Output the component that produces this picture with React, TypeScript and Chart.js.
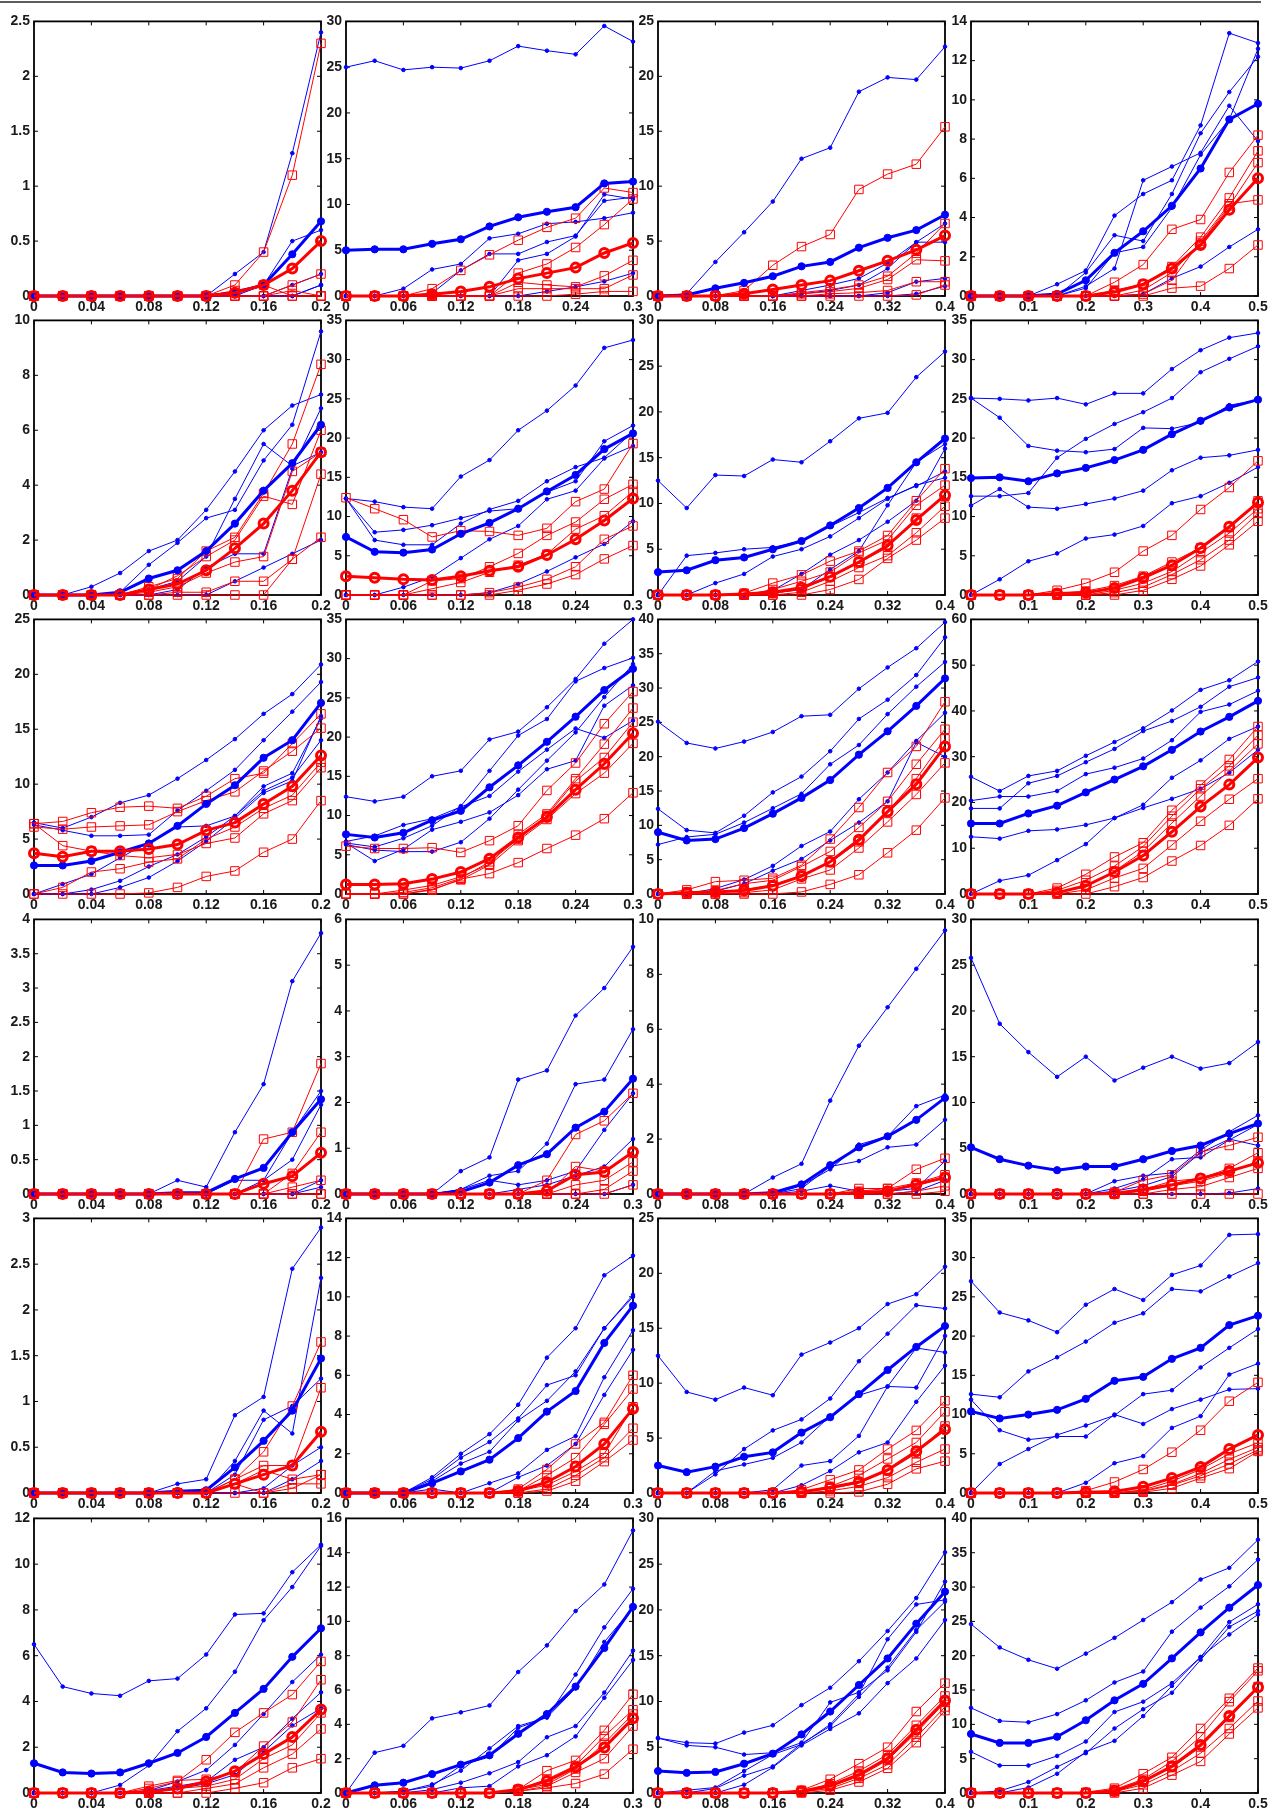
import React, { useEffect, useRef } from 'react';
import { Chart, registerables } from 'chart.js';
Chart.register(...registerables);

// x values per column
const xCol1 = [0, 0.02, 0.04, 0.06, 0.08, 0.1, 0.12, 0.14, 0.16, 0.18, 0.2];
const xCol2 = [0, 0.03, 0.06, 0.09, 0.12, 0.15, 0.18, 0.21, 0.24, 0.27, 0.3];
const xCol3 = [0, 0.04, 0.08, 0.12, 0.16, 0.2, 0.24, 0.28, 0.32, 0.36, 0.4];
const xCol4 = [0, 0.05, 0.1, 0.15, 0.2, 0.25, 0.3, 0.35, 0.4, 0.45, 0.5];
const xMaxByCol = [0.2, 0.3, 0.4, 0.5];
const xStepByCol = [0.04, 0.06, 0.08, 0.1];
const yMaxRows = [[2.5, 30, 25, 14], [10, 35, 30, 35], [25, 35, 40, 60], [4, 6, 10, 30], [3, 14, 25, 35], [12, 16, 30, 40]];
const yStepRows = [[0.5, 5, 5, 2], [2, 5, 5, 5], [5, 5, 5, 10], [0.5, 1, 2, 5], [0.5, 2, 5, 5], [2, 2, 5, 5]];

// ---------- Row 1 ----------
const blueR1C1 = [
  [0,0,0,0,0,0,0,0.2,0.4,1.3,2.4],
  [0,0,0,0,0,0,0,0,0.1,0.5,0.6],
  [0,0,0,0,0,0,0,0,0,0.1,0.2],
  [0,0,0,0,0,0,0,0,0,0,0.1],
  [0,0,0,0,0,0,0,0,0,0,0.1],
];
const blueMeanR1C1 = [0,0,0,0,0,0,0,0.03,0.1,0.38,0.68];
const redR1C1 = [
  [0,0,0,0,0,0,0,0.1,0.4,1.1,2.3],
  [0,0,0,0,0,0,0,0,0,0.1,0.2],
  [0,0,0,0,0,0,0,0.05,0.1,0,0],
  [0,0,0,0,0,0,0,0,0,0.05,0],
  [0,0,0,0,0,0,0,0,0,0,0],
];
const redMeanR1C1 = [0,0,0,0,0,0,0,0.03,0.1,0.25,0.5];

const blueR1C2 = [
  [25.0,25.7,24.7,25.0,24.9,25.7,27.3,26.8,26.4,29.5,27.8],
  [0,0,0.8,2.9,3.5,6.3,6.8,7.9,8.1,8.5,9.1],
  [0,0,0,0.3,2.8,4.6,4.6,5.9,6.6,10.4,10.8],
  [0,0,0,0,0,0,3.9,4.6,6.5,11.1,10.6],
  [0,0,0,0,0,0,0,0.5,1.0,1.6,2.5],
];
const blueMeanR1C2 = [5.0,5.1,5.1,5.7,6.2,7.6,8.6,9.2,9.7,12.3,12.5];
const redR1C2 = [
  [0,0,0,0.8,2.8,4.5,6.1,7.5,8.5,11.8,11.3],
  [0,0,0,0,0,0,2.5,3.5,5.3,7.8,10.6],
  [0,0,0,0,0,0,1.5,1.2,1.0,2.2,3.9],
  [0,0,0,0,0,0,0.8,0.8,0.8,0.8,2.3],
  [0,0,0,0,0,0,0,0,0.2,0.5,0.5],
];
const redMeanR1C2 = [0,0,0,0.2,0.5,1.0,1.9,2.5,3.1,4.7,5.8];

const blueR1C3 = [
  [0,0.2,3.1,5.8,8.6,12.5,13.5,18.6,19.9,19.7,22.7],
  [0,0,0,0,0,0.5,1.0,1.6,3.0,4.9,6.6],
  [0,0,0,0,0,0.2,0.5,1.0,2.5,4.9,4.9],
  [0,0,0,0,0,0,0,0,0.3,1.3,1.6],
  [0,0,0,0,0,0,0,0,0,0.2,0.9],
];
const blueMeanR1C3 = [0,0.1,0.7,1.2,1.8,2.7,3.1,4.4,5.3,6.0,7.4];
const redR1C3 = [
  [0,0,0,0.5,2.8,4.5,5.6,9.7,11.1,12.0,15.4],
  [0,0,0,0,0,0.3,0.6,1.0,1.8,3.9,6.6],
  [0,0,0,0,0,0.2,0.4,0.7,1.5,3.3,3.2],
  [0,0,0,0,0,0,0.2,0.3,0.5,1.3,1.3],
  [0,0,0,0,0,0,0,0,0,0.1,1.0],
];
const redMeanR1C3 = [0,0,0,0.2,0.6,1.0,1.4,2.3,3.2,4.2,5.5];

const blueR1C4 = [
  [0,0,0,0.6,1.3,4.1,5.2,5.9,8.7,13.4,12.9],
  [0,0,0,0,1.2,3.1,2.8,5.2,8.3,10.4,12.2],
  [0,0,0,0,0.5,1.4,5.9,6.6,7.3,9.7,7.9],
  [0,0,0,0,0.4,2.2,2.5,4.5,7.2,9.0,12.6],
  [0,0,0,0,0,0,0.1,0.9,1.5,2.5,3.4],
];
const blueMeanR1C4 = [0,0,0,0.1,0.8,2.2,3.3,4.6,6.5,9.0,9.8];
const redR1C4 = [
  [0,0,0,0,0,0.7,1.6,3.4,3.9,6.3,8.2],
  [0,0,0,0,0,0.3,0.6,1.5,3.0,5.0,7.4],
  [0,0,0,0,0,0,0.3,1.2,2.7,4.6,6.8],
  [0,0,0,0,0,0,0.1,0.8,2.8,4.7,4.9],
  [0,0,0,0,0,0,0,0.4,0.5,1.4,2.6],
];
const redMeanR1C4 = [0,0,0,0,0,0.2,0.6,1.4,2.6,4.4,6.0];

// ---------- Row 2 ----------
const blueR2C1 = [
  [0,0,0.3,0.8,1.6,2.0,3.1,4.5,6.0,6.9,7.3],
  [0,0,0,0.1,1.1,1.9,2.8,3.1,4.9,6.2,9.6],
  [0,0,0,0,0.2,0.5,1.4,3.5,5.5,4.7,5.2],
  [0,0,0,0,0,0.2,1.0,1.5,1.5,4.6,6.8],
  [0,0,0,0,0,0,0,0.5,1.0,1.5,2.0],
];
const blueMeanR2C1 = [0,0,0,0.1,0.6,0.9,1.6,2.6,3.8,4.8,6.2];
const redR2C1 = [
  [0,0,0,0,0.3,0.6,1.6,2.1,3.7,5.5,8.4],
  [0,0,0,0,0.2,0.7,1.4,2.0,3.6,3.3,6.0],
  [0,0,0,0,0.1,0.3,0.8,1.2,1.4,4.5,5.2],
  [0,0,0,0,0,0.1,0.1,0.5,0.5,1.3,4.4],
  [0,0,0,0,0,0,0,0,0,1.3,2.1],
];
const redMeanR2C1 = [0,0,0,0,0.2,0.4,0.9,1.7,2.6,3.8,5.2];

const blueR2C2 = [
  [12.3,11.9,11.2,11.0,15.1,17.2,21.0,23.5,26.7,31.5,32.5],
  [12.3,8.0,8.3,8.9,9.8,10.7,11.0,13.1,14.5,19.6,21.6],
  [12.3,7.0,6.4,6.4,9.1,10.9,12.0,14.5,16.3,17.5,20.8],
  [0,0,1.0,2.3,4.7,7.1,8.8,12.2,13.3,17.4,19.0],
  [0,0,0,0,0,0.3,1.4,3.0,4.8,6.5,9.4],
];
const blueMeanR2C2 = [7.4,5.5,5.4,5.8,7.8,9.2,11.0,13.2,15.3,18.6,20.6];
const redR2C2 = [
  [12.4,11.0,9.6,7.4,8.2,8.1,7.6,8.5,11.9,13.5,19.3],
  [0,0,0,1.8,2.1,3.6,5.3,7.6,9.3,12.2,14.1],
  [0,0,0,0.8,1.6,2.9,3.8,5.2,8.4,10.1,13.2],
  [0,0,0,0,0,0.3,1.0,2.0,3.6,7.1,8.8],
  [0,0,0,0,0,0,0.6,1.4,2.6,4.6,6.3],
];
const redMeanR2C2 = [2.4,2.2,2.0,1.9,2.4,3.1,3.6,5.1,7.1,9.5,12.3];

const blueR2C3 = [
  [12.5,9.5,13.1,13.0,14.8,14.5,16.8,19.3,19.9,23.8,26.6],
  [0,4.3,4.6,5.0,5.2,5.9,7.5,9.0,10.6,11.9,13.5],
  [0,0,1.3,2.3,4.2,5.0,6.4,8.4,10.5,12.0,12.8],
  [0,0,0,0,0.5,2.3,4.4,6.0,8.0,10.3,16.0],
  [0,0,0,0,0.2,0.6,2.8,4.8,9.8,14.5,16.5],
];
const blueMeanR2C3 = [2.5,2.7,3.8,4.1,5.0,5.9,7.6,9.5,11.7,14.5,17.1];
const redR2C3 = [
  [0,0,0,0.2,1.3,2.2,3.7,4.8,6.5,10.3,13.8],
  [0,0,0,0,0.6,1.5,2.5,4.6,6.0,9.8,12.0],
  [0,0,0,0,0.2,0.6,2.0,3.5,5.2,8.4,10.8],
  [0,0,0,0,0,0.3,1.5,3.0,4.3,6.8,9.7],
  [0,0,0,0,0,0,0.6,1.7,4.0,6.0,8.4],
];
const redMeanR2C3 = [0,0,0,0.1,0.3,0.8,2.0,3.6,5.4,8.2,10.9];

const blueR2C4 = [
  [25.1,25.0,24.8,25.1,24.3,25.7,25.7,28.8,31.2,32.8,33.4],
  [25.1,22.6,19.0,18.4,18.2,18.6,21.3,21.2,22.0,24.2,24.8],
  [12.6,12.6,13.0,17.5,19.9,21.8,23.3,25.1,28.4,30.1,31.7],
  [11.4,13.5,11.2,11.0,11.6,12.3,13.3,15.9,17.5,17.8,18.5],
  [0,2.0,4.3,5.3,7.2,7.7,8.8,11.7,12.6,14.3,16.3],
];
const blueMeanR2C4 = [14.9,15.0,14.5,15.5,16.2,17.2,18.5,20.5,22.2,23.9,24.9];
const redR2C4 = [
  [0,0,0,0.6,1.5,2.9,5.6,7.6,10.9,13.7,17.1],
  [0,0,0,0.2,0.5,1.2,2.4,4.2,6.0,8.6,12.0],
  [0,0,0,0,0,0.6,1.5,3.0,5.4,7.9,11.0],
  [0,0,0,0,0,0.3,1.0,2.6,4.5,7.0,10.4],
  [0,0,0,0,0,0,0.6,2.0,3.7,6.4,9.4],
];
const redMeanR2C4 = [0,0,0,0.2,0.3,0.9,2.2,3.8,6.0,8.7,11.8];

// ---------- Row 3 ----------
const blueR3C1 = [
  [6.5,6.0,7.0,8.3,9.0,10.5,12.2,14.1,16.4,18.2,20.9],
  [6.3,5.8,5.3,5.3,5.4,7.6,9.4,11.3,14.0,16.6,19.3],
  [0,0.9,1.8,3.3,4.7,6.1,6.2,7.1,9.8,11.0,16.0],
  [0,0,0.4,1.2,2.5,3.6,5.2,7.1,9.4,10.6,14.0],
  [0,0,0,0.6,1.5,3.0,4.8,6.9,9.2,10.3,16.2],
];
const blueMeanR3C1 = [2.6,2.6,3.0,3.8,4.6,6.2,8.2,9.9,12.4,14.0,17.4];
const redR3C1 = [
  [6.4,6.6,7.4,7.9,8.0,7.8,8.9,10.5,11.0,13.7,16.4],
  [6.1,5.9,6.1,6.2,6.3,7.5,8.5,9.3,11.2,13.0,15.1],
  [6.4,4.4,3.9,3.5,3.3,3.6,4.6,5.1,7.3,8.5,11.5],
  [0,0.6,2.0,2.3,2.9,3.2,5.0,6.1,7.8,9.0,12.0],
  [0,0,0,0,0.1,0.6,1.6,2.1,3.8,5.0,8.5],
];
const redMeanR3C1 = [3.7,3.4,3.9,3.9,4.1,4.5,5.8,6.5,8.2,9.8,12.6];

const blueR3C2 = [
  [12.4,11.8,12.4,15.0,15.7,19.7,20.7,23.8,27.4,31.9,35.0],
  [6.5,6.0,7.1,8.7,11.2,15.7,20.2,22.3,27.1,28.8,30.1],
  [6.3,5.6,5.4,5.4,6.6,9.6,13.3,17.0,20.6,25.1,29.3],
  [6.5,4.2,5.7,8.2,9.2,10.4,12.6,15.9,17.0,24.0,26.6],
  [6.7,7.4,8.8,9.6,11.1,12.5,15.6,18.4,21.1,19.9,22.1],
];
const blueMeanR3C2 = [7.6,7.2,7.8,9.4,10.6,13.6,16.4,19.4,22.6,26.0,28.7];
const redR3C2 = [
  [6.1,5.8,5.8,5.9,5.3,6.8,8.7,13.2,16.7,21.7,25.8],
  [0,0,0.5,1.1,2.2,3.8,7.6,10.2,14.7,19.1,23.7],
  [0,0,0.2,0.8,2.0,4.1,7.0,10.0,14.4,17.4,21.9],
  [0,0,0,0.6,1.8,3.7,6.8,9.5,12.8,15.4,19.2],
  [0,0,0,0.5,1.9,2.6,4.0,5.8,7.5,9.6,12.9],
];
const redMeanR3C2 = [1.2,1.2,1.3,1.9,2.8,4.5,7.2,9.8,13.3,16.6,20.5];

const blueR3C3 = [
  [25.1,22.0,21.2,22.2,23.6,25.9,26.1,29.9,33.0,35.8,39.6],
  [12.4,9.3,8.9,11.4,14.8,17.1,20.8,25.5,28.3,31.9,37.4],
  [7.2,8.3,8.7,10.4,12.5,14.6,18.9,21.7,26.2,30.2,33.8],
  [0,0,0.8,2.1,4.1,7.0,9.1,13.8,17.7,22.3,26.4],
  [0,0,0.4,1.5,3.4,5.1,7.8,10.4,13.5,22.1,20.0],
];
const blueMeanR3C3 = [9.0,7.8,8.0,9.6,11.7,14.0,16.6,20.3,23.7,27.4,31.4];
const redR3C3 = [
  [0,0.6,1.8,2.0,2.3,4.2,8.0,12.6,17.7,21.5,28.0],
  [0,0.3,0.5,1.5,2.0,4.0,6.2,9.7,13.5,18.9,24.0],
  [0,0,0.2,0.6,1.3,2.7,4.6,7.6,12.0,16.8,22.6],
  [0,0,0,0.2,0.6,2.2,3.5,6.7,10.5,14.5,19.1],
  [0,0,0,0,0,0.3,1.4,2.8,6.0,9.3,14.0],
];
const redMeanR3C3 = [0,0.2,0.3,0.5,1.2,2.6,4.7,7.9,12.0,16.0,21.5];

const blueR3C4 = [
  [25.6,22.5,25.8,26.9,30.2,33.2,36.2,40.1,44.6,46.7,50.8],
  [18.7,18.7,24.2,25.8,28.8,31.7,35.6,37.8,40.9,45.3,47.3],
  [20.4,21.3,21.3,22.5,26.2,27.6,29.6,33.6,39.8,41.4,44.4],
  [12.5,12.1,13.8,14.1,15.1,16.6,18.8,20.8,23.0,26.5,31.5],
  [0,2.9,4.1,7.4,10.9,16.6,19.5,25.4,29.2,33.9,36.6],
];
const blueMeanR3C4 = [15.4,15.4,17.6,19.3,22.2,25.0,27.9,31.5,35.5,38.7,42.2];
const redR3C4 = [
  [0,0,0,1.3,4.3,8.1,11.2,18.3,23.8,29.4,36.6],
  [0,0,0,0.8,3.0,6.1,10.4,17.0,23.0,28.0,34.7],
  [0,0,0,0.4,1.5,5.0,9.3,15.5,21.4,26.9,32.8],
  [0,0,0,0,0.9,3.5,5.6,10.7,15.9,20.7,25.2],
  [0,0,0,0,0,1.6,3.6,7.2,10.6,15.0,20.8],
];
const redMeanR3C4 = [0,0,0,0.3,1.8,4.8,8.4,13.6,19.1,23.9,29.8];

// ---------- Row 4 ----------
const blueR4C1 = [
  [0,0,0,0,0,0.2,0.1,0.9,1.6,3.1,3.8],
  [0,0,0,0,0,0,0,0.2,0.2,0.9,1.5],
  [0,0,0,0,0,0,0,0,0.2,0.5,1.3],
  [0,0,0,0,0,0,0,0,0,0,0.2],
  [0,0,0,0,0,0,0,0,0,0,0.1],
];
const blueMeanR4C1 = [0,0,0,0,0,0.02,0.02,0.22,0.38,0.9,1.38];
const redR4C1 = [
  [0,0,0,0,0,0,0,0,0.8,0.9,1.9],
  [0,0,0,0,0,0,0,0,0,0.3,0.9],
  [0,0,0,0,0,0,0,0,0,0.1,0.2],
  [0,0,0,0,0,0,0,0,0,0,0],
  [0,0,0,0,0,0,0,0,0,0,0],
];
const redMeanR4C1 = [0,0,0,0,0,0,0,0,0.15,0.26,0.6];

const blueR4C2 = [
  [0,0,0,0,0.5,0.8,2.5,2.7,3.9,4.5,5.4],
  [0,0,0,0,0.1,0.4,0.5,1.1,2.4,2.5,3.6],
  [0,0,0,0,0.1,0.3,0.2,0.3,0.5,1.4,2.2],
  [0,0,0,0,0,0,0.1,0.2,0.4,0.6,1.2],
  [0,0,0,0,0,0,0,0,0,0,0.2],
];
const blueMeanR4C2 = [0,0,0,0,0.05,0.25,0.63,0.87,1.45,1.8,2.52];
const redR4C2 = [
  [0,0,0,0,0,0,0,0.3,1.3,1.6,2.2],
  [0,0,0,0,0,0,0,0,0.6,0.5,0.9],
  [0,0,0,0,0,0,0,0,0.2,0.3,0.7],
  [0,0,0,0,0,0,0,0,0,0.1,0.5],
  [0,0,0,0,0,0,0,0,0,0,0.2],
];
const redMeanR4C2 = [0,0,0,0,0,0,0,0.07,0.42,0.48,0.92];

const blueR4C3 = [
  [0,0,0,0,0.6,1.1,3.4,5.4,6.8,8.2,9.6],
  [0,0,0,0,0,0.3,0.9,1.8,2.1,3.2,3.6],
  [0,0,0,0,0,0.2,1.0,1.2,1.7,1.8,2.7],
  [0,0,0,0,0,0.1,0.3,0.1,0.1,0.2,1.2],
  [0,0,0,0,0,0,0,0,0,0.1,0.5],
];
const blueMeanR4C3 = [0,0,0,0,0.05,0.35,1.05,1.7,2.1,2.7,3.5];
const redR4C3 = [
  [0,0,0,0,0,0,0,0.2,0.2,0.9,1.3],
  [0,0,0,0,0,0,0,0.1,0.2,0.4,0.7],
  [0,0,0,0,0,0,0,0,0.1,0.3,0.6],
  [0,0,0,0,0,0,0,0,0,0.1,0.3],
  [0,0,0,0,0,0,0,0,0,0,0.1],
];
const redMeanR4C3 = [0,0,0,0,0,0,0,0.05,0.1,0.35,0.6];

const blueR4C4 = [
  [25.8,18.6,15.5,12.8,15.0,12.4,13.8,15.0,13.7,14.3,16.6],
  [0,0,0,0,0,1.4,2.0,2.3,4.8,6.8,8.6],
  [0,0,0,0,0,0.6,1.6,3.8,4.0,5.9,7.6],
  [0,0,0,0,0,0.3,0.9,1.9,4.5,6.0,5.3],
  [0,0,0,0,0,0,0,0,0,0.1,0.6],
];
const blueMeanR4C4 = [5.1,3.8,3.1,2.6,3.0,3.0,3.8,4.7,5.3,6.6,7.7];
const redR4C4 = [
  [0,0,0,0,0,0.2,1.5,2.1,4.6,5.3,6.2],
  [0,0,0,0,0,0,0.5,1.4,1.7,2.8,4.5],
  [0,0,0,0,0,0,0.3,0.9,1.4,2.3,3.6],
  [0,0,0,0,0,0,0,0.5,0.8,1.8,2.8],
  [0,0,0,0,0,0,0,0,0,0,0],
];
const redMeanR4C4 = [0,0,0,0,0,0.05,0.5,1.0,1.7,2.5,3.4];

// ---------- Row 5 ----------
const blueR5C1 = [
  [0,0,0,0,0,0.1,0.15,0.85,1.05,2.45,2.9],
  [0,0,0,0,0,0,0,0.35,0.9,0.65,2.35],
  [0,0,0,0,0,0,0,0.2,0.8,0.95,1.25],
  [0,0,0,0,0,0,0,0,0.05,0.3,0.5],
  [0,0,0,0,0,0,0,0,0,0.15,0.35],
];
const blueMeanR5C1 = [0,0,0,0,0,0.02,0.03,0.28,0.57,0.9,1.47];
const redR5C1 = [
  [0,0,0,0,0,0,0,0.15,0.45,0.95,1.65],
  [0,0,0,0,0,0,0,0.15,0.3,0.3,1.15],
  [0,0,0,0,0,0,0,0.1,0.25,0.15,0.2],
  [0,0,0,0,0,0,0,0.1,0,0.1,0.1],
  [0,0,0,0,0,0,0,0,0,0.05,0.2],
];
const redMeanR5C1 = [0,0,0,0,0,0,0,0.1,0.2,0.3,0.67];

const blueR5C2 = [
  [0,0,0,0.8,2.0,3.0,4.5,6.9,8.4,11.1,12.1],
  [0,0,0,0.7,1.8,2.6,3.8,5.5,6.0,8.4,10.1],
  [0,0,0,0.6,1.5,2.1,3.7,4.7,6.2,8.4,10.0],
  [0,0,0,0.2,0,0.5,1.0,2.2,2.9,5.9,8.3],
  [0,0,0,0,0,0,0.8,1.4,2.5,5.0,7.3],
];
const blueMeanR5C2 = [0,0,0,0.5,1.1,1.7,2.8,4.15,5.2,7.65,9.55];
const redR5C2 = [
  [0,0,0,0,0,0,0.2,1.2,2.5,3.6,6.0],
  [0,0,0,0,0,0,0.1,0.9,1.8,3.5,5.3],
  [0,0,0,0,0,0,0.1,0.4,1.1,2.0,4.4],
  [0,0,0,0,0,0,0,0.2,0.9,1.8,3.3],
  [0,0,0,0,0,0,0,0.1,0.6,1.6,2.7],
];
const redMeanR5C2 = [0,0,0,0,0,0,0.1,0.55,1.35,2.5,4.3];

const blueR5C3 = [
  [12.5,9.2,8.5,9.6,8.9,12.6,13.7,15.0,17.2,18.1,20.6],
  [0,0,1.7,4.0,5.7,6.7,8.6,12.0,14.5,17.1,16.8],
  [0,0,2.0,2.6,3.2,4.6,7.0,8.9,9.7,9.6,14.3],
  [0,0,0,0,0.3,2.5,2.9,5.2,9.7,13.2,12.8],
  [0,0,0,0,0,0.7,2.0,3.7,4.6,8.3,11.6],
];
const blueMeanR5C3 = [2.5,1.9,2.4,3.3,3.7,5.5,6.9,9.0,11.2,13.3,15.2];
const redR5C3 = [
  [0,0,0,0,0,0.3,1.2,2.1,4.0,5.7,8.4],
  [0,0,0,0,0,0.1,0.6,1.6,3.1,4.6,7.4],
  [0,0,0,0,0,0.1,0.4,0.9,2.0,3.6,6.1],
  [0,0,0,0,0,0,0.2,0.6,1.4,2.8,4.0],
  [0,0,0,0,0,0,0,0.1,0.8,2.2,2.9],
];
const redMeanR5C3 = [0,0,0,0,0,0.1,0.5,1.0,2.1,3.8,5.8];

const blueR5C4 = [
  [27.0,23.0,22.0,20.5,24.0,26.0,24.6,27.8,29.0,32.9,33.0],
  [12.6,12.2,15.5,17.3,19.3,21.7,22.9,26.0,25.7,27.6,29.3],
  [11.9,8.0,6.8,7.2,7.2,10.0,8.8,10.7,11.9,13.2,13.3],
  [0,3.7,5.6,7.4,8.6,9.9,12.6,13.1,16.0,18.5,20.9],
  [0,0,0,0,1.3,3.8,4.7,8.3,9.8,15.1,16.5],
];
const blueMeanR5C4 = [10.4,9.5,10.0,10.6,12.0,14.3,14.8,17.1,18.5,21.4,22.6];
const redR5C4 = [
  [0,0,0,0,0.3,1.4,3.0,5.2,8.0,11.7,14.1],
  [0,0,0,0,0,0,0.4,1.5,3.0,5.0,6.4],
  [0,0,0,0,0,0,0.3,1.1,2.5,4.3,5.8],
  [0,0,0,0,0,0,0.2,1.0,2.2,3.7,5.5],
  [0,0,0,0,0,0,0.1,0.6,1.9,3.1,5.3],
];
const redMeanR5C4 = [0,0,0,0,0.1,0.2,0.8,1.9,3.3,5.6,7.4];

// ---------- Row 6 ----------
const blueR6C1 = [
  [6.5,4.65,4.35,4.25,4.9,5.0,6.05,7.8,7.85,9.65,10.85],
  [0,0,0,0.35,1.2,2.7,3.7,5.3,7.55,9.0,10.8],
  [0,0,0,0,0.1,0.5,1.0,2.1,3.45,4.85,6.05],
  [0,0,0,0,0.1,0.3,0.5,1.45,2.0,3.25,4.4],
  [0,0,0,0,0,0.2,0.4,0.8,1.8,2.95,3.7],
];
const blueMeanR6C1 = [1.3,0.9,0.85,0.9,1.3,1.75,2.45,3.5,4.55,5.95,7.2];
const redR6C1 = [
  [0,0,0,0,0.2,0.5,1.45,2.65,3.5,4.3,5.75],
  [0,0,0,0,0.3,0.55,0.6,0.9,2.05,3.1,4.95],
  [0,0,0,0,0,0.2,0.3,0.6,1.5,2.1,3.5],
  [0,0,0,0,0,0,0.2,0.4,1.1,1.7,2.8],
  [0,0,0,0,0,0,0,0.2,0.45,1.1,1.5],
];
const redMeanR6C1 = [0,0,0,0,0.05,0.2,0.5,0.95,1.7,2.45,3.65];

const blueR6C2 = [
  [0,2.35,2.75,4.35,4.7,5.1,7.05,8.6,10.6,12.15,15.3],
  [0,0,0.1,0.5,1.3,2.6,3.9,4.4,6.9,9.65,11.9],
  [0,0,0.1,0.4,1.6,2.1,3.8,4.4,6.1,8.8,10.8],
  [0,0,0,0.2,0.6,1.15,1.8,3.25,3.9,5.85,8.3],
  [0,0,0,0,0.3,0.4,1.55,2.2,3.3,5.55,7.75],
];
const blueMeanR6C2 = [0,0.45,0.6,1.1,1.65,2.2,3.45,4.6,6.2,8.45,10.85];
const redR6C2 = [
  [0,0,0,0,0,0,0.2,1.3,1.9,3.65,5.75],
  [0,0,0,0,0,0,0.2,0.8,1.6,3.3,4.85],
  [0,0,0,0,0,0,0.2,0.5,1.4,2.9,4.6],
  [0,0,0,0,0,0,0.1,0.4,1.2,2.0,3.9],
  [0,0,0,0,0,0,0.1,0.3,0.55,1.1,2.55],
];
const redMeanR6C2 = [0,0,0,0,0,0,0.2,0.7,1.5,2.65,4.35];

const blueR6C3 = [
  [6.0,5.5,5.4,6.6,7.4,9.6,11.5,14.4,17.7,21.3,26.3],
  [6.0,5.2,5.0,4.2,4.4,5.5,9.9,11.0,13.4,17.6,23.1],
  [0,0.3,0.6,2.4,4.2,5.3,7.5,10.8,16.8,20.6,21.1],
  [0,0,0.5,1.9,2.9,5.4,7.3,10.5,13.7,17.8,20.9],
  [0,0,0,0.9,2.8,5.2,7.0,8.7,12.0,14.7,18.9],
];
const blueMeanR6C3 = [2.4,2.2,2.3,3.2,4.3,6.4,8.9,11.8,14.7,18.5,22.0];
const redR6C3 = [
  [0,0,0,0,0,0.3,1.5,3.2,5.0,8.9,12.0],
  [0,0,0,0,0,0.2,1.0,2.4,4.2,7.4,10.6],
  [0,0,0,0,0,0.1,0.7,1.8,3.6,6.6,9.9],
  [0,0,0,0,0,0.1,0.5,1.6,3.1,6.1,9.4],
  [0,0,0,0,0,0,0.3,1.2,2.7,5.5,9.0],
];
const redMeanR6C3 = [0,0,0,0,0,0.2,0.8,2.0,3.8,6.9,10.1];

const blueR6C4 = [
  [24.6,21.2,19.4,18.1,20.3,22.6,25.2,27.8,31.1,32.8,36.9],
  [12.4,10.5,10.3,11.5,13.5,16.1,17.7,23.5,27.0,30.1,34.0],
  [6.0,4.0,4.0,5.4,7.5,11.8,13.3,16.0,19.8,24.9,27.5],
  [0,0.3,1.6,3.8,5.8,9.4,12.2,14.6,19.4,24.2,26.5],
  [0,0,0.8,2.8,6.0,7.6,11.2,15.6,19.8,23.1,26.0],
];
const blueMeanR6C4 = [8.6,7.3,7.3,8.2,10.6,13.5,15.9,19.6,23.4,27.0,30.3];
const redR6C4 = [
  [0,0,0,0,0.1,0.7,2.8,5.2,9.4,13.8,18.2],
  [0,0,0,0,0,0.5,2.0,4.6,8.2,13.3,17.8],
  [0,0,0,0,0,0.3,1.6,3.7,6.7,11.0,15.5],
  [0,0,0,0,0,0.2,1.2,3.2,5.8,9.4,13.4],
  [0,0,0,0,0,0,0.7,2.6,4.6,8.6,12.4],
];
const redMeanR6C4 = [0,0,0,0,0,0.3,1.7,3.9,7.0,11.2,15.4];

const X_COLS = [xCol1, xCol2, xCol3, xCol4];
const PANELS = [
  [[blueR1C1, blueMeanR1C1, redR1C1, redMeanR1C1], [blueR1C2, blueMeanR1C2, redR1C2, redMeanR1C2], [blueR1C3, blueMeanR1C3, redR1C3, redMeanR1C3], [blueR1C4, blueMeanR1C4, redR1C4, redMeanR1C4]],
  [[blueR2C1, blueMeanR2C1, redR2C1, redMeanR2C1], [blueR2C2, blueMeanR2C2, redR2C2, redMeanR2C2], [blueR2C3, blueMeanR2C3, redR2C3, redMeanR2C3], [blueR2C4, blueMeanR2C4, redR2C4, redMeanR2C4]],
  [[blueR3C1, blueMeanR3C1, redR3C1, redMeanR3C1], [blueR3C2, blueMeanR3C2, redR3C2, redMeanR3C2], [blueR3C3, blueMeanR3C3, redR3C3, redMeanR3C3], [blueR3C4, blueMeanR3C4, redR3C4, redMeanR3C4]],
  [[blueR4C1, blueMeanR4C1, redR4C1, redMeanR4C1], [blueR4C2, blueMeanR4C2, redR4C2, redMeanR4C2], [blueR4C3, blueMeanR4C3, redR4C3, redMeanR4C3], [blueR4C4, blueMeanR4C4, redR4C4, redMeanR4C4]],
  [[blueR5C1, blueMeanR5C1, redR5C1, redMeanR5C1], [blueR5C2, blueMeanR5C2, redR5C2, redMeanR5C2], [blueR5C3, blueMeanR5C3, redR5C3, redMeanR5C3], [blueR5C4, blueMeanR5C4, redR5C4, redMeanR5C4]],
  [[blueR6C1, blueMeanR6C1, redR6C1, redMeanR6C1], [blueR6C2, blueMeanR6C2, redR6C2, redMeanR6C2], [blueR6C3, blueMeanR6C3, redR6C3, redMeanR6C3], [blueR6C4, blueMeanR6C4, redR6C4, redMeanR6C4]],
];

// ---------- styling / layout ----------
const BLUE = '#0000ff';
const RED = '#ff0000';
const FONT = { family: "'Liberation Sans', Arial, sans-serif", size: 14, weight: 'bold' };
const PLOT_W = 287;
const PLOT_H = 275;
const Y_AXIS_W = 40;
const PAD_TOP = 12;
const PAD_RIGHT = 24;
const X_AXIS_H = 26;

const frameTicks = {
  id: 'frameTicks',
  beforeDatasetsDraw(chart: any) {
    const { ctx, chartArea, scales } = chart;
    const { left, right, top, bottom } = chartArea;
    ctx.save();
    ctx.strokeStyle = '#000';
    ctx.lineWidth = 1;
    ctx.beginPath();
    const tl = 4;
    for (const t of scales.x.ticks) {
      const p = scales.x.getPixelForValue(t.value);
      ctx.moveTo(p, bottom); ctx.lineTo(p, bottom - tl);
      ctx.moveTo(p, top); ctx.lineTo(p, top + tl);
    }
    for (const t of scales.y.ticks) {
      const p = scales.y.getPixelForValue(t.value);
      ctx.moveTo(left, p); ctx.lineTo(left + tl, p);
      ctx.moveTo(right, p); ctx.lineTo(right - tl, p);
    }
    ctx.stroke();
    ctx.lineWidth = 1.8;
    ctx.strokeRect(left, top, right - left, bottom - top);
    ctx.restore();
  },
};

const fmt = (v: any) => String(Math.round(Number(v) * 1000) / 1000);

function Panel({ r, c }: { r: number; c: number }) {
  const ref = useRef<HTMLCanvasElement>(null);
  const plotLeft = Math.round(34 + 312.2 * c);
  const plotTop = Math.round(20.5 + 299.4 * r);
  const cw = Y_AXIS_W + PLOT_W + PAD_RIGHT;
  const ch = PAD_TOP + PLOT_H + X_AXIS_H;

  useEffect(() => {
    const xs = X_COLS[c];
    const [blue, blueMean, red, redMean] = PANELS[r][c];
    const pts = (vals: number[]) => xs.map((x, i) => ({ x, y: vals[i] }));
    const datasets: any[] = [];
    datasets.push({
      data: pts(redMean), borderColor: RED, borderWidth: 3, pointStyle: 'circle',
      pointRadius: 4.5, pointBorderWidth: 3, pointBorderColor: RED,
      pointBackgroundColor: 'rgba(0,0,0,0)', order: 0, clip: false,
    });
    datasets.push({
      data: pts(blueMean), borderColor: BLUE, borderWidth: 3, pointStyle: 'circle',
      pointRadius: 3.6, pointBorderWidth: 1, pointBorderColor: BLUE,
      pointBackgroundColor: BLUE, order: 1, clip: false,
    });
    red.forEach((s: number[]) => datasets.push({
      data: pts(s), borderColor: RED, borderWidth: 1, pointStyle: 'rect',
      pointRadius: 6, pointBorderWidth: 1, pointBorderColor: RED,
      pointBackgroundColor: 'rgba(0,0,0,0)', order: 2, clip: false,
    }));
    blue.forEach((s: number[]) => datasets.push({
      data: pts(s), borderColor: BLUE, borderWidth: 1, pointStyle: 'circle',
      pointRadius: 1.8, pointBorderWidth: 1, pointBorderColor: BLUE,
      pointBackgroundColor: BLUE, order: 3, clip: false,
    }));

    const chart = new Chart(ref.current as HTMLCanvasElement, {
      type: 'line',
      data: { datasets },
      plugins: [frameTicks],
      options: {
        animation: false,
        responsive: false,
        devicePixelRatio: 1,
        events: [],
        layout: { padding: { left: 0, top: PAD_TOP, right: PAD_RIGHT, bottom: 0 } },
        plugins: { legend: { display: false }, tooltip: { enabled: false } },
        elements: { line: { tension: 0 } },
        scales: {
          x: {
            type: 'linear', min: 0, max: xMaxByCol[c],
            ticks: { stepSize: xStepByCol[c], autoSkip: false, maxRotation: 0, padding: 3, font: FONT, color: '#1a1a1a', callback: fmt },
            grid: { display: false, drawTicks: false, tickLength: 0 },
            border: { display: false },
            afterFit: (s: any) => { s.height = X_AXIS_H; },
          },
          y: {
            type: 'linear', min: 0, max: yMaxRows[r][c],
            ticks: { stepSize: yStepRows[r][c], autoSkip: false, padding: 4, font: FONT, color: '#1a1a1a', callback: fmt },
            grid: { display: false, drawTicks: false, tickLength: 0 },
            border: { display: false },
            afterFit: (s: any) => { s.width = Y_AXIS_W; },
          },
        },
      } as any,
    });
    return () => chart.destroy();
  }, [r, c]);

  return (
    <canvas
      ref={ref}
      width={cw}
      height={ch}
      style={{ position: 'absolute', left: plotLeft - Y_AXIS_W, top: plotTop - PAD_TOP, width: cw, height: ch }}
    />
  );
}

export default function App() {
  const cells: React.ReactNode[] = [];
  for (let r = 0; r < 6; r++) {
    for (let c = 0; c < 4; c++) {
      cells.push(<Panel key={`${r}-${c}`} r={r} c={c} />);
    }
  }
  return (
    <div style={{ position: 'absolute', left: 0, top: 0, width: 1283, height: 1814, background: '#fff', overflow: 'hidden' }}>
      <div style={{ position: 'absolute', left: 0, top: 1, width: 1261, height: 2, background: '#5c5c5c' }} />
      {cells}
    </div>
  );
}
